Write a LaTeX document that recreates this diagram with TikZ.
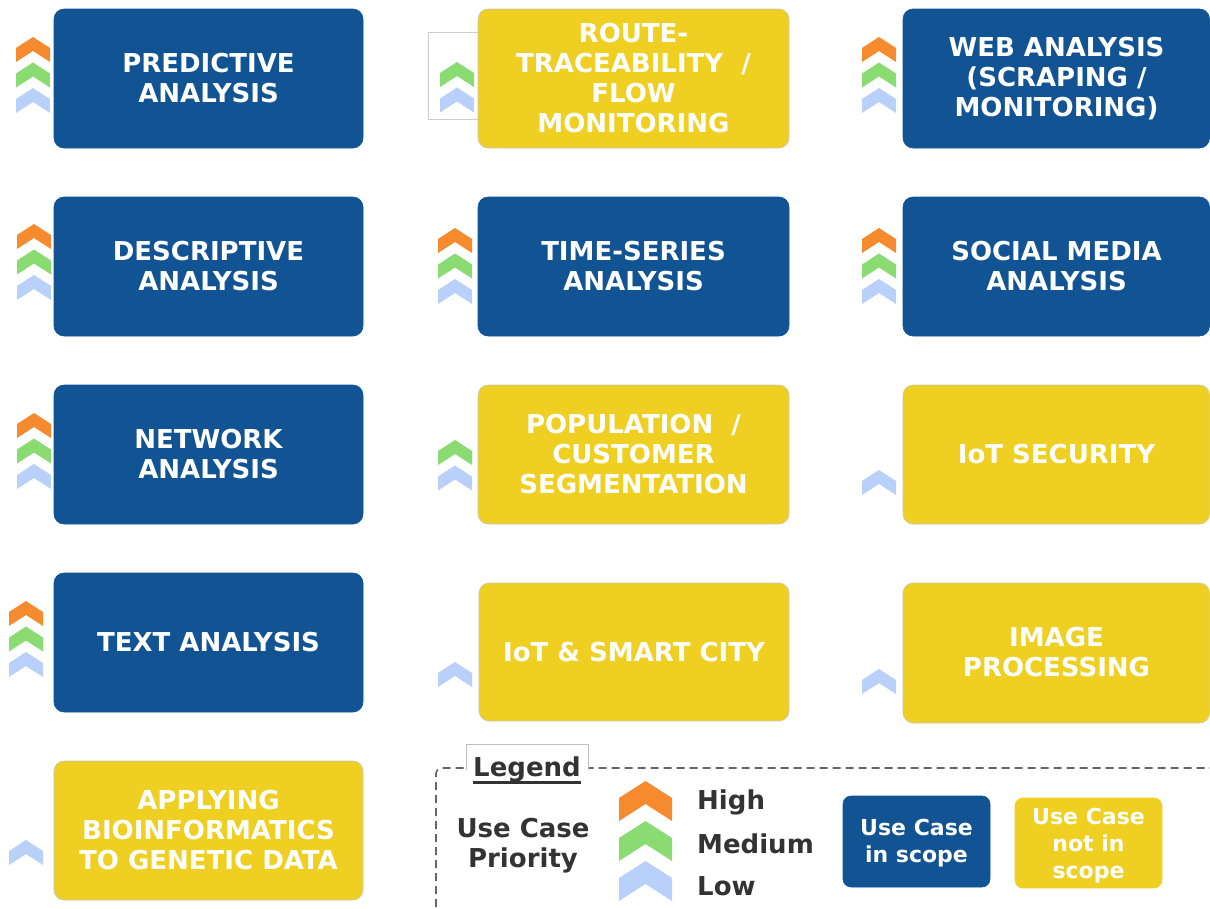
\documentclass[tikz,border=0pt]{standalone}
\usepackage{fontspec}
\setmainfont{DejaVu Sans}
\definecolor{ucblue}{HTML}{115393}
\definecolor{ucyellow}{HTML}{EFD022}
\definecolor{chorange}{HTML}{F58A2E}
\definecolor{chgreen}{HTML}{8ADB72}
\definecolor{chblue}{HTML}{B8D0FA}
\definecolor{txtdark}{HTML}{333333}
\tikzset{
  inbox/.style={fill=ucblue, draw=ucblue, rounded corners=10pt, line width=0.6pt},
  outbox/.style={fill=ucyellow, draw=black!22, rounded corners=10pt, line width=0.6pt},
  boxtext/.style={text=white, align=center, font=\bfseries\fontsize{26}{30}\selectfont, inner sep=0pt},
  legtext/.style={text=txtdark, align=center, font=\bfseries\fontsize{26}{30}\selectfont, inner sep=0pt},
  legboxtext/.style={text=white, align=center, font=\bfseries\fontsize{22}{27}\selectfont, inner sep=0pt},
}
% small chevron: #1 = left x, #2 = apex y, #3 = colour
\newcommand\smchev[3]{\fill[#3] (#1,#2+11) -- (#1+17,#2) -- (#1+34,#2+11) -- (#1+34,#2+25) -- (#1+17,#2+14) -- (#1,#2+25) -- cycle;}
\newcommand\bigchev[3]{\fill[#3] (#1,#2+17) -- (#1+26.5,#2) -- (#1+53,#2+17) -- (#1+53,#2+40) -- (#1+26.5,#2+23) -- (#1,#2+40) -- cycle;}
\newcommand\threechev[2]{\smchev{#1}{#2}{chorange}\smchev{#1}{#2+25.5}{chgreen}\smchev{#1}{#2+51}{chblue}}
\begin{document}
\begin{tikzpicture}[x=1pt,y=-1pt]
\useasboundingbox (0,0) rectangle (1210,908);
% gray frame behind route box
\draw[black!20, fill=white, line width=0.8pt] (428,32) rectangle (478,119);
% column 1
\draw[inbox] (54,9) rectangle (363,148);
\node[boxtext] (pa) at (208.5,78.5) {PREDICTIVE\\ANALYSIS};
\draw[inbox] (54,197) rectangle (363,336);
\node[boxtext] (da) at (208.5,266.5) {DESCRIPTIVE\\ANALYSIS};
\draw[inbox] (54,385) rectangle (363,524);
\node[boxtext] (na) at (208.5,454.5) {NETWORK\\ANALYSIS};
\draw[inbox] (54,573) rectangle (363,712);
\node[boxtext] (ta) at (208.5,642.5) {TEXT ANALYSIS};
\draw[outbox] (54,761) rectangle (363,900);
\node[boxtext] (bio) at (208.5,830.5) {APPLYING\\BIOINFORMATICS\\TO GENETIC DATA};
% column 2
\draw[outbox] (478,9) rectangle (789,148);
\node[boxtext] (rt) at (633.5,78.5) {ROUTE-\\TRACEABILITY~~/\\FLOW\\MONITORING};
\draw[inbox] (478,197) rectangle (789,336);
\node[boxtext] (ts) at (633.5,266.5) {TIME-SERIES\\ANALYSIS};
\draw[outbox] (478,385) rectangle (789,524);
\node[boxtext] (pop) at (633.5,454.5) {POPULATION~~/\\CUSTOMER\\SEGMENTATION};
\draw[outbox] (479,583) rectangle (789,721);
\node[boxtext] (iot) at (634,652) {IoT \& SMART CITY};
% column 3
\draw[inbox] (903,9) rectangle (1209.5,148);
\node[boxtext] (web) at (1056.5,78.5) {WEB ANALYSIS\\(SCRAPING /\\MONITORING)};
\draw[inbox] (903,197) rectangle (1209.5,336);
\node[boxtext] (sm) at (1056.5,266.5) {SOCIAL MEDIA\\ANALYSIS};
\draw[outbox] (903,385) rectangle (1209.5,524);
\node[boxtext] (sec) at (1056.5,454.5) {IoT SECURITY};
\draw[outbox] (903,583) rectangle (1209.5,723);
\node[boxtext] (img) at (1056.5,652) {IMAGE\\PROCESSING};
% chevrons
\threechev{16}{37}
\threechev{17}{224}
\threechev{17}{413}
\threechev{9}{601}
\smchev{9}{840}{chblue}
\smchev{440}{62}{chgreen}\smchev{440}{87.5}{chblue}
\threechev{438}{228}
\smchev{438}{440}{chgreen}\smchev{438}{465.5}{chblue}
\smchev{438}{662}{chblue}
\threechev{862}{37}
\threechev{862}{228}
\smchev{862}{470}{chblue}
\smchev{862}{669}{chblue}
% legend
\draw[black!60, line width=1.6pt, dash pattern=on 8pt off 5pt, rounded corners=6pt] (436,920) -- (436,768) -- (1215,768);
\fill[white] (466,744) rectangle (588,772);
\draw[black!25, line width=0.8pt] (466,770) -- (466,744) -- (588,744) -- (588,770);
\node[legtext] (leg) at (527,769) {Legend};
\draw[txtdark, line width=2.2pt] ([yshift=-6.5pt]leg.base west) -- ([yshift=-6.5pt]leg.base east);
\node[legtext] (prio) at (523,846) {Use Case\\Priority};
\bigchev{619}{781}{chorange}
\bigchev{619}{821}{chgreen}
\bigchev{619}{861}{chblue}
\node[legtext, anchor=west] (hi) at (697,802) {High};
\node[legtext, anchor=west] (med) at (697,844) {Medium};
\node[legtext, anchor=west] (lo) at (697,886) {Low};
\draw[inbox, rounded corners=8pt] (843,796) rectangle (990,887);
\node[legboxtext] (lin) at (916.5,843.5) {Use Case\\in scope};
\draw[outbox, rounded corners=8pt, draw=ucyellow] (1015,798) rectangle (1162,888);
\node[legboxtext] (lout) at (1088.5,846) {Use Case\\not in\\scope};
\end{tikzpicture}
\end{document}
